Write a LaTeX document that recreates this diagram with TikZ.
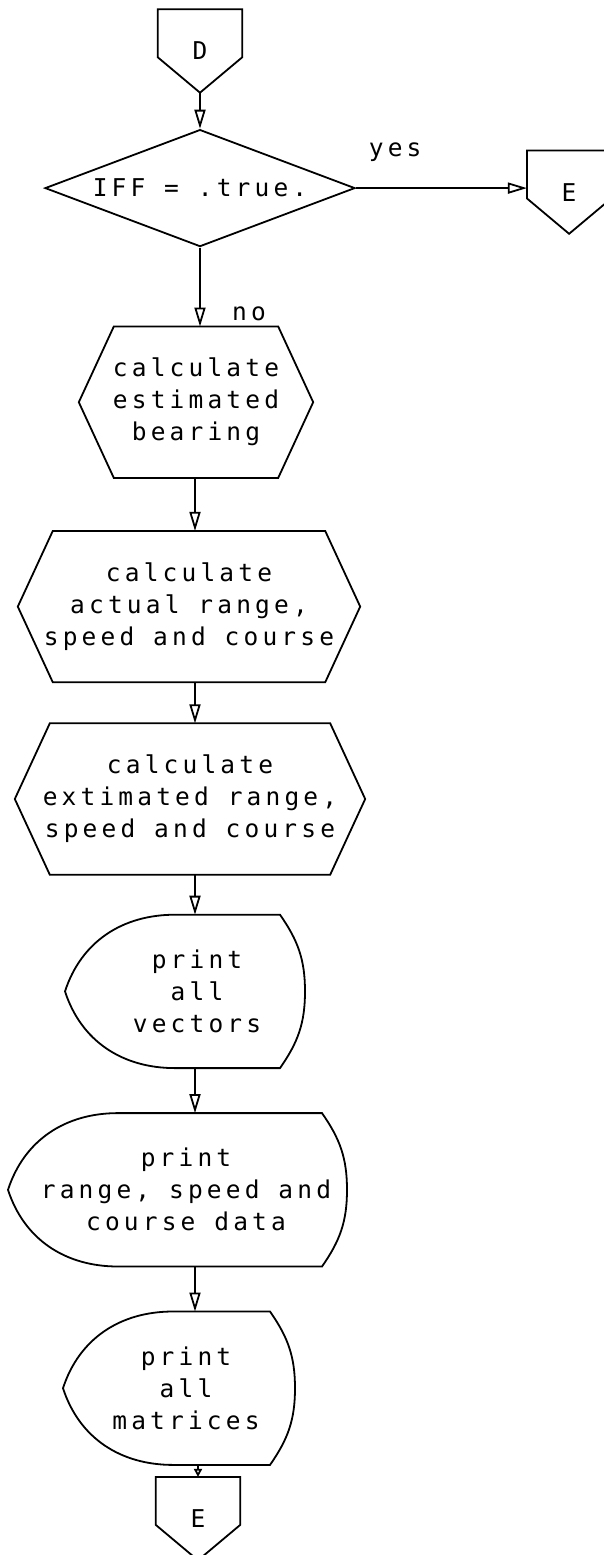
\documentclass[tikz,border=0pt]{standalone}
\usepackage{fontspec}
\newfontfamily\printfont{DejaVu Sans Mono}[LetterSpace=17]
\usetikzlibrary{shapes.geometric, arrows.meta, positioning}

\begin{document}
\begin{tikzpicture}[x=1pt, y=-1pt, font=\printfont\fontsize{24.5}{32}\selectfont]
    % --- STYLES ---
    \tikzset{
        thickline/.style={line width=1.8pt, line join=miter},
        flow/.style={thickline, -{Triangle[open, length=19pt, width=11pt]}},
        decision/.style={diamond, draw, thickline, aspect=2.65, minimum width=310pt, minimum height=117pt, inner sep=0pt},
        offpage/.style={minimum width=84pt, minimum height=83pt, inner sep=0pt,
            append after command={\pgfextra{\begin{pgfinterruptpath}
                \draw[thickline] (\tikzlastnode.north west) -- (\tikzlastnode.north east)
                    -- ([yshift=-48pt]\tikzlastnode.north east) -- (\tikzlastnode.south)
                    -- ([yshift=-48pt]\tikzlastnode.north west) -- cycle;
            \end{pgfinterruptpath}}}},
        hexbox/.style={minimum width=#1, minimum height=151pt, inner sep=0pt, align=center,
            append after command={\pgfextra{\begin{pgfinterruptpath}
                \draw[thickline] ([xshift=35pt]\tikzlastnode.north west) -- ([xshift=-35pt]\tikzlastnode.north east)
                    -- (\tikzlastnode.east) -- ([xshift=-35pt]\tikzlastnode.south east)
                    -- ([xshift=35pt]\tikzlastnode.south west) -- (\tikzlastnode.west) -- cycle;
            \end{pgfinterruptpath}}}},
        display/.style 2 args={minimum height=153pt, inner sep=0pt, align=center,
            append after command={\pgfextra{\begin{pgfinterruptpath}
                \draw[thickline] ([xshift={(110-#1)*1pt}]\tikzlastnode.north) -- ([xshift={(#2-25)*1pt}]\tikzlastnode.north)
                    to[out=-55, in=90] ([xshift={#2*1pt}]\tikzlastnode.center)
                    to[out=-90, in=55] ([xshift={(#2-25)*1pt}]\tikzlastnode.south)
                    -- ([xshift={(110-#1)*1pt}]\tikzlastnode.south)
                    to[out=180, in=-72] ([xshift={-#1*1pt}]\tikzlastnode.center)
                    to[out=72, in=180] ([xshift={(110-#1)*1pt}]\tikzlastnode.north);
            \end{pgfinterruptpath}}}}
    }

    \useasboundingbox (0,0) rectangle (603,1555);

    % --- NODES ---
    \node [offpage] (conD) at (200,51) {D};
    \node [decision, below=36pt of conD] (dec) {IFF = .true.};
    \node [offpage, right=171pt of dec, yshift=-4pt] (conE) {E};

    \node [hexbox=234pt, below=79pt of dec, xshift=-4pt] (hex1) {calculate\\estimated\\bearing};
    \node [hexbox=342pt, below=53pt of hex1, xshift=-7pt] (hex2) {calculate\\actual range,\\speed and course};
    \node [hexbox=350pt, below=41pt of hex2, xshift=1pt] (hex3) {calculate\\extimated range,\\speed and course};

    \node [display={132}{108}, below=40pt of hex3, xshift=7pt] (disp1) {print\\all\\vectors};
    \node [display={178}{161}, below=45pt of disp1, xshift=-11pt] (disp2) {print\\range, speed and\\course data};
    \node [display={123}{109}, below=45pt of disp2] (disp3) {print\\all\\matrices};

    \node [offpage, below=12pt of disp3, xshift=12pt] (conE2) {E};

    \coordinate (trunk) at (195,0);

    % --- CONNECTIONS ---
    \draw [flow] (conD.south) -- (dec.north);
    \draw [flow] (dec.east) -- (dec.east -| conE.west) node[above=22pt, pos=0.23] {yes};
    \draw [flow] (dec.south) -- (dec.south |- hex1.north) node[right=28pt, pos=0.84] {no};
    \draw [flow] (hex1.south -| trunk) -- (hex2.north -| trunk);
    \draw [flow] (hex2.south -| trunk) -- (hex3.north -| trunk);
    \draw [flow] (hex3.south -| trunk) -- (disp1.north -| trunk);
    \draw [flow] (disp1.south -| trunk) -- (disp2.north -| trunk);
    \draw [flow] (disp2.south -| trunk) -- (disp3.north -| trunk);
    \draw [thickline, -{Triangle[open, length=8pt, width=8pt]}] (disp3.south -| conE2.north) -- (conE2.north);

\end{tikzpicture}
\end{document}
